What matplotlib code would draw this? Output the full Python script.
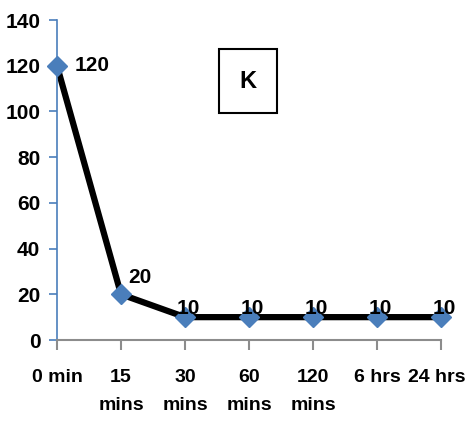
import matplotlib
matplotlib.use("Agg")
import matplotlib.pyplot as plt
import matplotlib.transforms as mtransforms

plt.rcParams['font.family'] = ['Liberation Sans Narrow', 'Liberation Sans', 'DejaVu Sans']

times = ['0 min', '15\nmins', '30\nmins', '60\nmins', '120\nmins', '6 hrs', '24 hrs']
values = [120, 20, 10, 10, 10, 10, 10]
yticks = [0, 20, 40, 60, 80, 100, 120, 140]

fig = plt.figure(figsize=(4.66, 4.41), dpi=100)
ax = fig.add_axes([57 / 466, 1 - 340 / 441, (441 - 57) / 466, 320 / 441])

x = list(range(len(values)))
ax.plot(x, values, color='black', linewidth=4.5, zorder=2)
ax.plot(x, values, linestyle='none', marker='D', markersize=10,
        color='#4a7ebb', zorder=3)

fs = 15
# value labels next to the points
for i, v in enumerate(values):
    if i == 0:
        ax.text(i + 0.27, v, str(v), fontsize=fs, fontweight='bold',
                ha='left', va='center')
    elif i == 1:
        ax.text(i + 0.12, v + 3, str(v), fontsize=fs, fontweight='bold',
                ha='left', va='bottom')
    else:
        ax.text(i + 0.05, v - 0.5, str(v), fontsize=fs, fontweight='bold',
                ha='center', va='bottom')

ax.set_xlim(0, 6)
ax.set_ylim(0, 140)
ax.set_xticks(x)
ax.set_xticklabels([])
ax.set_yticks(yticks)
ax.set_yticklabels([str(t) for t in yticks], fontsize=fs, fontweight='bold')

# category labels under the ticks; the last one nudged left to stay inside
xform = ax.get_xaxis_transform()
for i, lab in enumerate(times):
    t = xform
    if i == len(times) - 1:
        t = xform + mtransforms.ScaledTranslation(-4 / 100, 0, fig.dpi_scale_trans)
    ax.text(i, -0.09, lab, transform=t, fontsize=14, fontweight='bold',
            ha='center', va='top', linespacing=1.85)

for s in ['top', 'right']:
    ax.spines[s].set_visible(False)
ax.spines['left'].set_color('#4a7ebb')
ax.spines['left'].set_linewidth(1.2)
ax.spines['bottom'].set_color('#8c8c8c')
ax.spines['bottom'].set_linewidth(1.5)
ax.tick_params(axis='y', colors='#4a7ebb', length=6, width=1.2, pad=6,
               labelcolor='black')
ax.tick_params(axis='x', colors='#8c8c8c', length=7, width=1.5)
for line in ax.lines:
    line.set_clip_on(False)

fig.text(248 / 466, 1 - 81 / 441, 'K', fontsize=17, fontweight='bold',
         family=['Liberation Sans', 'DejaVu Sans'], ha='center', va='center',
         bbox=dict(boxstyle='square,pad=0.85', facecolor='white',
                   edgecolor='black', linewidth=1.5))

fig.savefig('out.png', dpi=100)
